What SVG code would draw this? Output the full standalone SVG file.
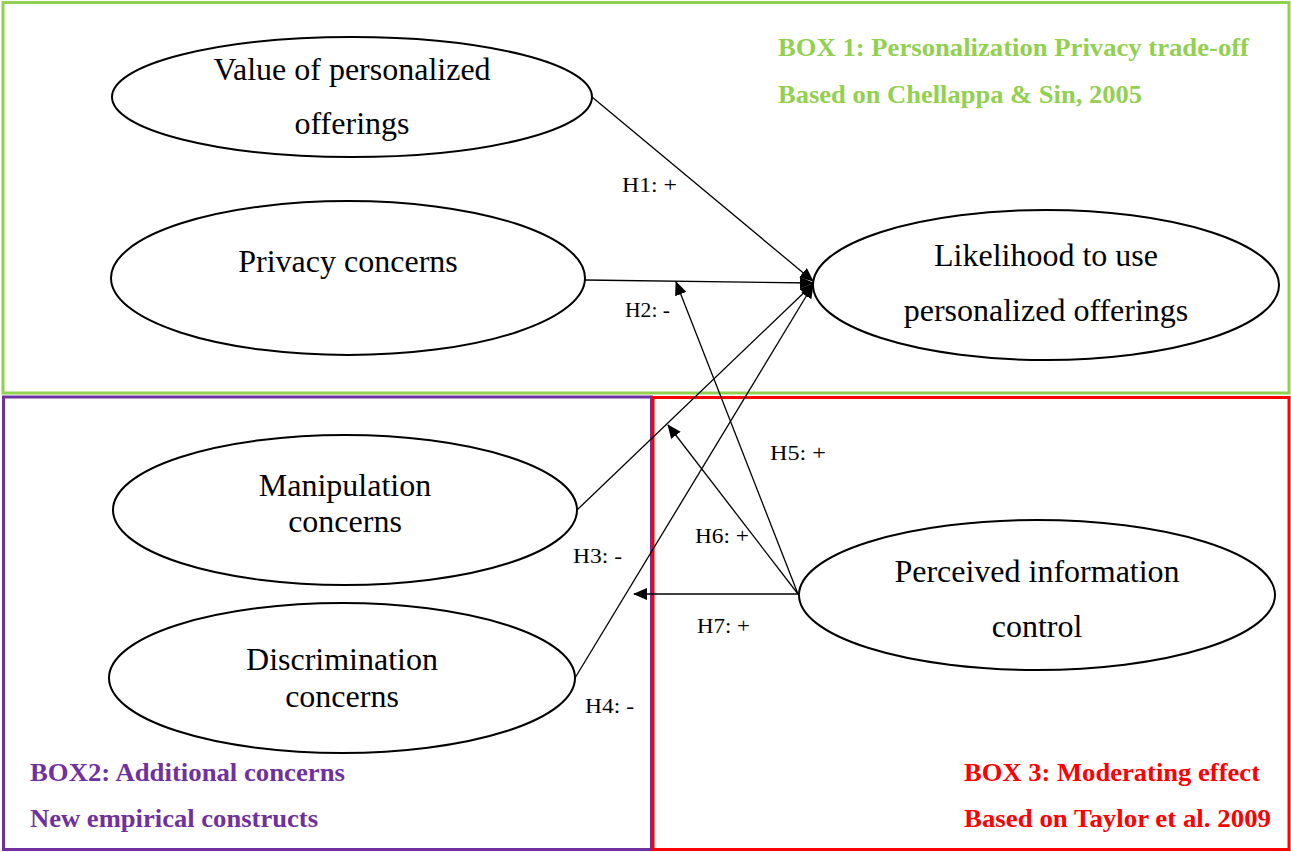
<svg xmlns="http://www.w3.org/2000/svg" width="1291" height="852" viewBox="0 0 1291 852">
<style>
.node ellipse{fill:#fff;stroke:#000;stroke-width:2}
.lbl{font-family:"Liberation Serif",serif;font-size:32px;fill:#000;text-anchor:middle}
.h{font-family:"Liberation Serif",serif;font-size:20px;fill:#000}
.t{font-family:"Liberation Serif",serif;font-size:25px;font-weight:bold}
#connectors line{stroke:#000;stroke-width:1.3;marker-end:url(#ah)}
</style>
<defs>
<marker id="ah" viewBox="0 0 14 12" refX="13" refY="6" markerWidth="14" markerHeight="12" markerUnits="userSpaceOnUse" orient="auto">
<path d="M0,0 L14,6 L0,12 Z" fill="#000"/>
</marker>
</defs>
<rect width="1291" height="852" fill="#fff"/>
<g id="box1">
<rect x="3" y="2.5" width="1286" height="390.5" fill="none" stroke="#92D050" stroke-width="3"/>
<text class="t" x="778" y="56" fill="#92D050" textLength="471" lengthAdjust="spacingAndGlyphs">BOX 1: Personalization Privacy trade-off</text>
<text class="t" x="778" y="103" fill="#92D050" textLength="364" lengthAdjust="spacingAndGlyphs">Based on Chellappa &amp; Sin, 2005</text>
</g>
<g id="box2">
<rect x="3.5" y="397" width="648" height="452.5" fill="none" stroke="#7030A0" stroke-width="3"/>
<text class="t" x="30" y="781" fill="#7030A0" textLength="315" lengthAdjust="spacingAndGlyphs">BOX2: Additional concerns</text>
<text class="t" x="30" y="827" fill="#7030A0" textLength="288" lengthAdjust="spacingAndGlyphs">New empirical constructs</text>
</g>
<g id="box3">
<rect x="653" y="397.5" width="636" height="452" fill="none" stroke="#FF0000" stroke-width="3"/>
<text class="t" x="964" y="781" fill="#FF0000" textLength="296" lengthAdjust="spacingAndGlyphs">BOX 3: Moderating effect</text>
<text class="t" x="964" y="827" fill="#FF0000" textLength="307" lengthAdjust="spacingAndGlyphs">Based on Taylor et al. 2009</text>
</g>
<g id="connectors">
<line x1="592" y1="97" x2="813" y2="281"/>
<line x1="585" y1="280" x2="813" y2="283"/>
<line x1="577" y1="510" x2="813" y2="284"/>
<line x1="575" y1="678" x2="813" y2="285"/>
<line x1="798" y1="594" x2="676" y2="282"/>
<line x1="798" y1="594" x2="668" y2="425"/>
<line x1="798" y1="594" x2="634" y2="594"/>
<text class="h" x="622" y="192" textLength="55" lengthAdjust="spacingAndGlyphs">H1: +</text>
<text class="h" x="625" y="317" textLength="45" lengthAdjust="spacingAndGlyphs">H2: -</text>
<text class="h" x="573" y="563" textLength="49" lengthAdjust="spacingAndGlyphs">H3: -</text>
<text class="h" x="585" y="713" textLength="49" lengthAdjust="spacingAndGlyphs">H4: -</text>
<text class="h" x="770" y="460" textLength="56" lengthAdjust="spacingAndGlyphs">H5: +</text>
<text class="h" x="695" y="543" textLength="54" lengthAdjust="spacingAndGlyphs">H6: +</text>
<text class="h" x="697" y="633" textLength="53" lengthAdjust="spacingAndGlyphs">H7: +</text>
</g>
<g id="n1" class="node">
<ellipse cx="352" cy="97" rx="240" ry="60"/>
<text class="lbl" x="352" y="80">Value of personalized</text>
<text class="lbl" x="352" y="134">offerings</text>
</g>
<g id="n2" class="node">
<ellipse cx="348" cy="278" rx="237" ry="77"/>
<text class="lbl" x="348" y="272">Privacy concerns</text>
</g>
<g id="n3" class="node">
<ellipse cx="1046" cy="285" rx="233" ry="75"/>
<text class="lbl" x="1046" y="266">Likelihood to use</text>
<text class="lbl" x="1046" y="321">personalized offerings</text>
</g>
<g id="n4" class="node">
<ellipse cx="345" cy="510" rx="232" ry="75"/>
<text class="lbl" x="345" y="496">Manipulation</text>
<text class="lbl" x="345" y="532">concerns</text>
</g>
<g id="n5" class="node">
<ellipse cx="342" cy="678" rx="233" ry="75"/>
<text class="lbl" x="342" y="670">Discrimination</text>
<text class="lbl" x="342" y="707">concerns</text>
</g>
<g id="n6" class="node">
<ellipse cx="1037" cy="595" rx="238" ry="75"/>
<text class="lbl" x="1037" y="582">Perceived information</text>
<text class="lbl" x="1037" y="637">control</text>
</g>
</svg>
